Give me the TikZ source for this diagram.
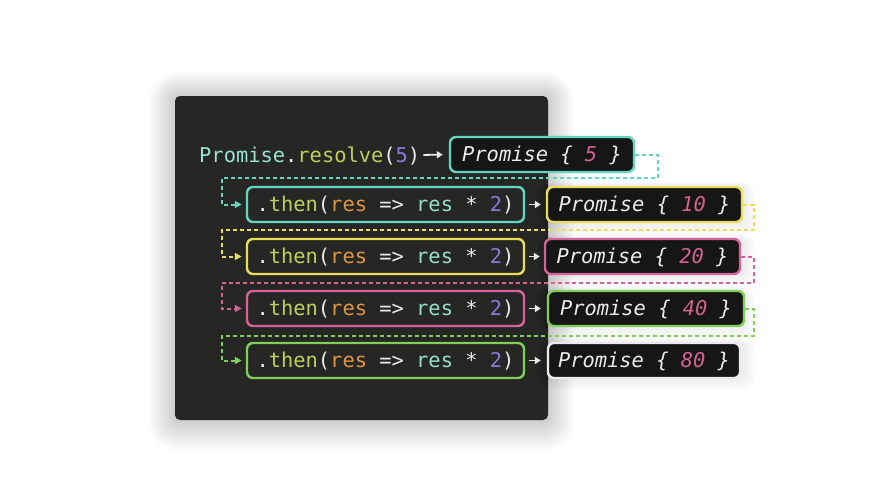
\documentclass[tikz,border=0pt]{standalone}
\usepackage{fontspec}
\newfontfamily\codefont{DejaVu Sans Mono}
\usetikzlibrary{arrows.meta}
\definecolor{panelbg}{RGB}{38,38,36}
\definecolor{resfill}{RGB}{22,22,22}
\definecolor{ccyan}{RGB}{98,214,190}
\definecolor{cyellow}{RGB}{232,222,92}
\definecolor{cpink}{RGB}{214,98,152}
\definecolor{cgreen}{RGB}{126,208,88}
\definecolor{cwhite}{RGB}{235,235,235}
\definecolor{tprom}{RGB}{150,228,212}
\definecolor{tfn}{RGB}{192,206,92}
\definecolor{tres}{RGB}{224,150,62}
\definecolor{tres2}{RGB}{150,224,206}
\definecolor{tnum}{RGB}{140,122,222}
\definecolor{tval}{RGB}{212,98,142}
\newcommand{\cfont}{\codefont\fontsize{20.4}{24}\selectfont}
\newcommand{\thencode}{\textcolor{cwhite}{.}\textcolor{tfn}{then}\textcolor{cwhite}{(}\textcolor{tres}{res} \textcolor{cwhite}{=>} \textcolor{tres2}{res} \textcolor{cwhite}{*} \textcolor{tnum}{2}\textcolor{cwhite}{)}}
\newcommand{\promval}[1]{Promise \{ \textcolor{tval}{#1} \}}
\begin{document}
\begin{tikzpicture}[x=1pt,y=-1pt,
  codebox/.style={draw, rounded corners=6pt, line width=2.4pt, minimum height=35pt,
    inner sep=0pt, font=\cfont, text=cwhite, text height=16.5pt, text depth=2.5pt},
  thenbox/.style={codebox, minimum width=277pt},
  resbox/.style={codebox, fill=resfill, font=\cfont\itshape},
  chain/.style={line width=2pt, dash pattern=on 4pt off 3pt, -{Triangle[length=7pt,width=7pt]}, shorten >=4pt},
  whitearrow/.style={draw=cwhite, line width=1.8pt, -{Triangle[length=6pt,width=7pt]}}
]
\useasboundingbox (0,0) rectangle (880,495);
\fill[white] (0,0) rectangle (880,495);
% panel shadow
\foreach \i in {1,...,24}{
  \fill[black, opacity=0.006, rounded corners=5pt+\i pt] (175-1.1*\i,96-1.0*\i) rectangle (548+1.1*\i,420+1.3*\i);
}
\fill[panelbg, rounded corners=5pt] (175,96) rectangle (548,420);
% result box shadows
\foreach \yy in {204.5,256.5,308.5,360.5}{
  \foreach \i in {1,...,8}{
    \fill[black, opacity=0.008, rounded corners=6pt+\i pt] (545-\i,\yy-18-0.6*\i) rectangle (745+1.4*\i,\yy+18+1.6*\i);
  }
}
% first line
\node[anchor=west, inner sep=0pt, font=\cfont, text height=16.5pt, text depth=2.5pt] (resolve) at (199,155)
  {\textcolor{tprom}{Promise}\textcolor{cwhite}{.}\textcolor{tfn}{resolve}\textcolor{cwhite}{(}\textcolor{tnum}{5}\textcolor{cwhite}{)}};
\node[resbox, draw=ccyan, minimum width=184pt] (p1) at (542,154.5) {\promval{5}};
% then boxes
\node[thenbox, draw=ccyan] (t1) at (385.5,204.5) {\thencode};
\node[thenbox, draw=cyellow] (t2) at (385.5,256.5) {\thencode};
\node[thenbox, draw=cpink] (t3) at (385.5,308.5) {\thencode};
\node[thenbox, draw=cgreen] (t4) at (385.5,360.5) {\thencode};
% result boxes
\node[resbox, draw=cyellow, minimum width=195pt] (p2) at (644.5,204.5) {\promval{10}};
\node[resbox, draw=cpink, minimum width=195pt] (p3) at (642.5,256.5) {\promval{20}};
\node[resbox, draw=cgreen, minimum width=196pt] (p4) at (646,308.5) {\promval{40}};
\node[resbox, draw=cwhite, minimum width=192pt] (p5) at (644,360.5) {\promval{80}};
% white arrows
\draw[whitearrow, shorten <=3pt, shorten >=6pt] (resolve.east) -- (p1.west);
\draw[whitearrow, shorten <=4pt, shorten >=5pt] (t1.east) -- (p2.west);
\draw[whitearrow, shorten <=4pt, shorten >=4pt] (t2.east) -- (p3.west);
\draw[whitearrow, shorten <=4pt, shorten >=6pt] (t3.east) -- (p4.west);
\draw[whitearrow, shorten <=4pt, shorten >=6pt] (t4.east) -- (p5.west);
% dashed chain connectors
\coordinate (r1) at (658,178); \coordinate (l1) at (222,178);
\coordinate (r2) at (754,230); \coordinate (l2) at (222,230);
\coordinate (r3) at (754,283); \coordinate (l3) at (222,283);
\coordinate (r4) at (754,335.5); \coordinate (l4) at (222,335.5);
\draw[chain, draw=ccyan] (p1.east) -| (r1) -- (l1) |- (t1.west);
\draw[chain, draw=cyellow] (p2.east) -| (r2) -- (l2) |- (t2.west);
\draw[chain, draw=cpink] (p3.east) -| (r3) -- (l3) |- (t3.west);
\draw[chain, draw=cgreen] (p4.east) -| (r4) -- (l4) |- (t4.west);
\end{tikzpicture}
\end{document}
